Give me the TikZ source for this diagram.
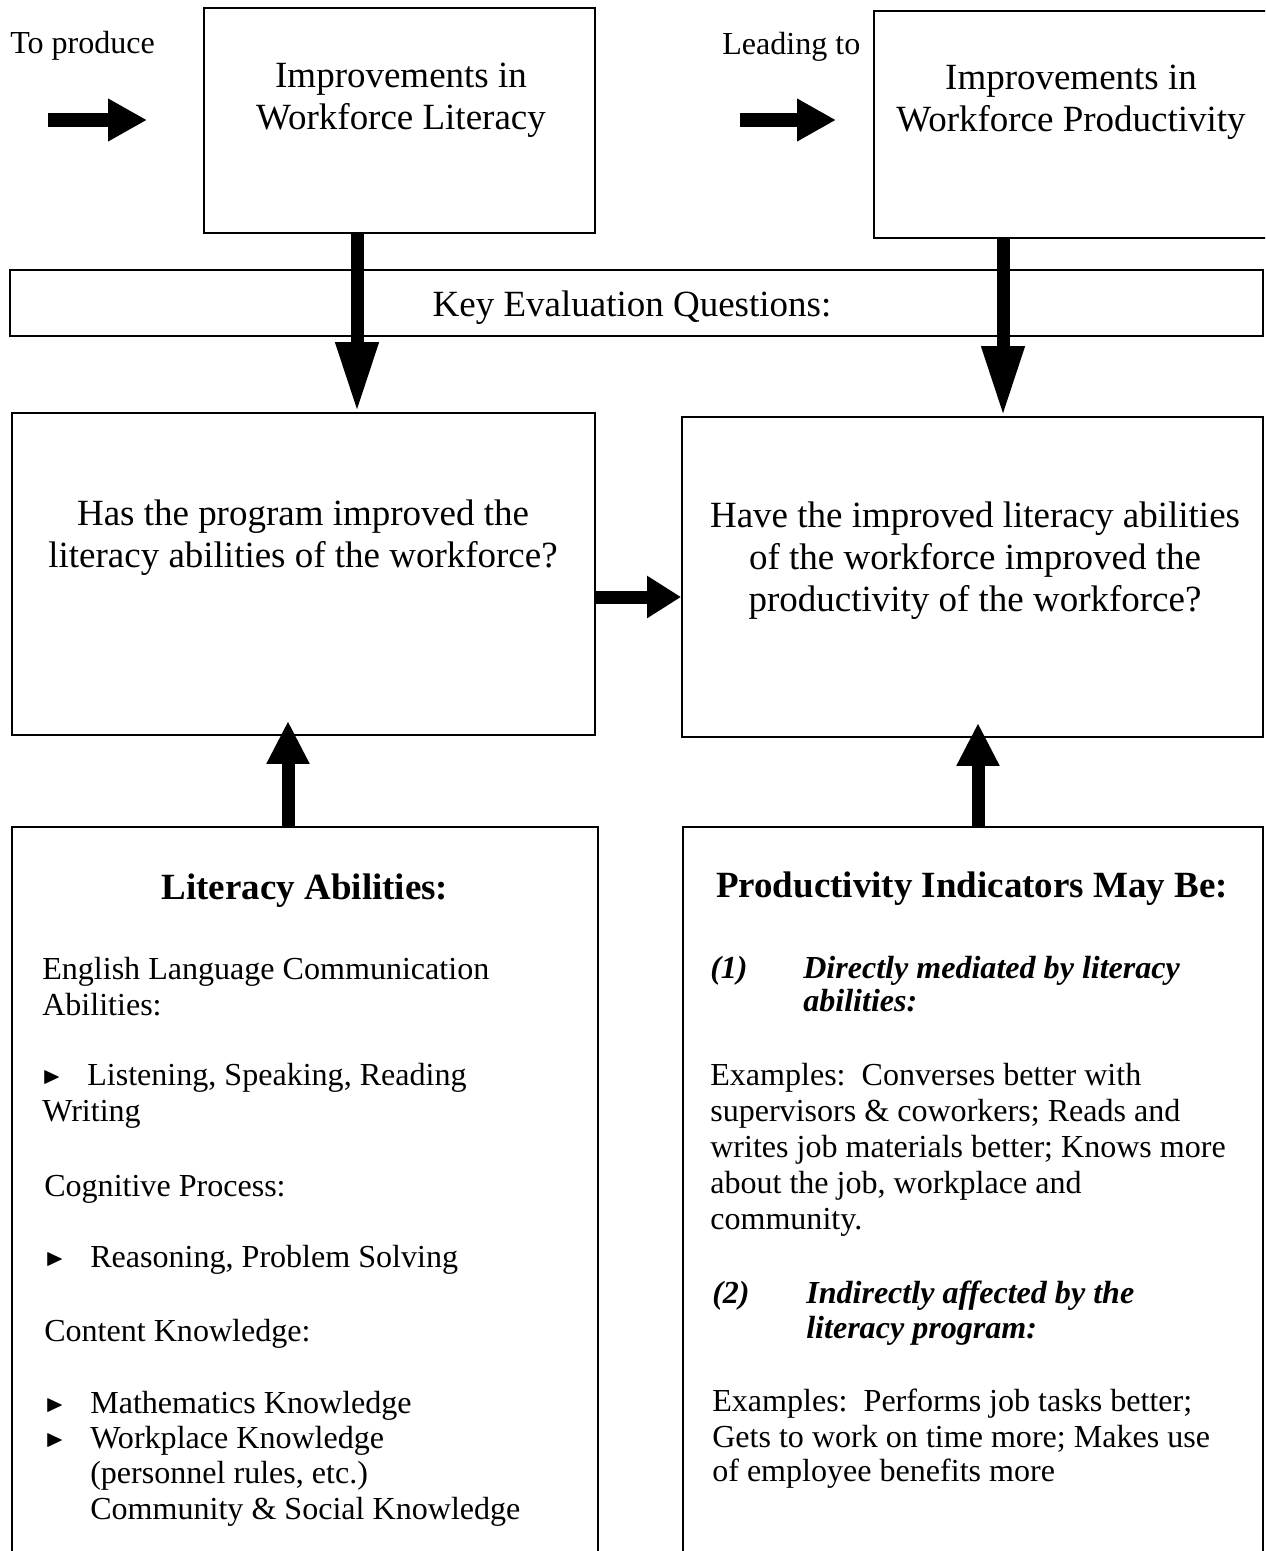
\documentclass[tikz,border=0pt]{standalone}
\usepackage{amssymb}
\usepackage{fontspec}
\setmainfont{Liberation Serif}
\usetikzlibrary{arrows.meta,positioning}

\tikzset{
  frame/.style={draw, line width=1.2pt},
  bigtext/.style={font=\fontsize{26.3}{29.5}\selectfont, anchor=base, inner sep=0pt},
  bodytext/.style={font=\fontsize{22.8}{25.6}\selectfont, anchor=base west, inner sep=0pt},
  boldhead/.style={font=\bfseries\fontsize{26.3}{29.5}\selectfont, anchor=base, inner sep=0pt},
  itemhead/.style={anchor=base west, inner sep=0pt, font=\bfseries\itshape\fontsize{22.8}{25.6}\selectfont},
  bullet/.style={anchor=base west, inner sep=0pt, font=\fontsize{17}{17}\selectfont},
  blockarrow/.style={line width=9.25pt, -{Triangle[width=28.5pt,length=#1]}},
}

\begin{document}
\begin{tikzpicture}[x=0.025cm, y=-0.025cm]
  \useasboundingbox (0,0) rectangle (1265,1551);
  \clip (0,0) rectangle (1265,1551);

  % Boxes
  \node[frame, minimum width=9.775cm, minimum height=5.625cm] (impLit) at (399.5,120.5) {};
  \node[frame, minimum width=10.025cm, minimum height=5.675cm] (impProd) at (1074.5,124.5) {};
  \node[frame, minimum width=31.325cm, minimum height=1.65cm] (keyBar) at (636.5,303) {};
  \node[frame, minimum width=14.575cm, minimum height=8.05cm] (qLit) at (303.5,574) {};
  \node[frame, minimum width=14.525cm, minimum height=8cm] (qProd) at (972.5,577) {};
  \node[frame, minimum width=14.65cm, minimum height=18.325cm] (litAb) at (305,1193.5) {};
  \node[frame, minimum width=14.5cm, minimum height=18.325cm] (prodInd) at (973,1193.5) {};

  % Top row
  \node[bodytext] (toProduce) at (10,54) {To produce};
  \node[bodytext] (leadingTo) at (722,55) {Leading to};
  \node[bigtext] (impLit1) at (401,88) {Improvements in};
  \node[bigtext] (impLit2) at (401,129) {Workforce Literacy};
  \node[bigtext] (impProd1) at (1071,90) {Improvements in};
  \node[bigtext] (impProd2) at (1071,131) {Workforce Productivity};
  \node[bigtext] (keyText) at (632,316) {Key Evaluation Questions:};

  % Questions
  \node[bigtext] (qLit1) at (303,525) {Has the program improved the};
  \node[bigtext] (qLit2) at (303,567) {literacy abilities of the workforce?};
  \node[bigtext] (qProd1) at (975,527) {Have the improved literacy abilities};
  \node[bigtext] (qProd2) at (975,569) {of the workforce improved the};
  \node[bigtext] (qProd3) at (975,611) {productivity of the workforce?};

  % Literacy abilities
  \node[boldhead] (litTitle) at (305,899) {Literacy Abilities:};
  \node[bodytext] (lit1) at (42,979) {English Language Communication};
  \node[bodytext] (lit2) at (42,1015) {Abilities:};
  \node[bullet] (bulA) at (42,1083) {$\blacktriangleright$};
  \node[bodytext] (lit3) at (87,1085) {Listening, Speaking, Reading};
  \node[bodytext] (lit4) at (42,1121) {Writing};
  \node[bodytext] (lit5) at (44,1196) {Cognitive Process:};
  \node[bullet] (bulB) at (45,1265) {$\blacktriangleright$};
  \node[bodytext] (lit6) at (90,1267) {Reasoning, Problem Solving};
  \node[bodytext] (lit7) at (44,1341) {Content Knowledge:};
  \node[bullet] (bulC) at (45,1411) {$\blacktriangleright$};
  \node[bodytext] (lit8) at (90,1413) {Mathematics Knowledge};
  \node[bullet] (bulD) at (45,1446) {$\blacktriangleright$};
  \node[bodytext] (lit9) at (90,1448) {Workplace Knowledge};
  \node[bodytext] (lit10) at (90,1483) {(personnel rules, etc.)};
  \node[bodytext] (lit11) at (90,1519) {Community \& Social Knowledge};

  % Productivity indicators
  \node[boldhead] (prodTitle) at (972,897) {Productivity Indicators May Be:};
  \node[itemhead] (num1) at (710,978) {(1)};
  \node[itemhead] (head1a) at (803,978) {Directly mediated by literacy};
  \node[itemhead] (head1b) at (803,1011) {abilities:};
  \node[bodytext] (ex1a) at (710,1085) {Examples:\ \ Converses better with};
  \node[bodytext] (ex1b) at (710,1121) {supervisors \& coworkers; Reads and};
  \node[bodytext] (ex1c) at (710,1157) {writes job materials better; Knows more};
  \node[bodytext] (ex1d) at (710,1193) {about the job, workplace and};
  \node[bodytext] (ex1e) at (710,1229) {community.};
  \node[itemhead] (num2) at (712,1303) {(2)};
  \node[itemhead] (head2a) at (806,1303) {Indirectly affected by the};
  \node[itemhead] (head2b) at (806,1338) {literacy program:};
  \node[bodytext] (ex2a) at (712,1411) {Examples:\ \ Performs job tasks better;};
  \node[bodytext] (ex2b) at (712,1447) {Gets to work on time more; Makes use};
  \node[bodytext] (ex2c) at (712,1481) {of employee benefits more};

  % Arrows
  \coordinate (srcL) at (48,120);
  \coordinate (tipL) at (147,120);
  \coordinate (srcR) at (740,120);
  \coordinate (tipR) at (836,120);
  \coordinate (downL) at (357,0);
  \coordinate (downR) at (1003,0);
  \coordinate (midY) at (0,597);
  \coordinate (upL) at (288,0);
  \coordinate (upR) at (978,0);
  \draw[blockarrow=27.7pt] (srcL) -- (tipL);
  \draw[blockarrow=27.7pt] (srcR) -- (tipR);
  \draw[blockarrow=49.8pt] (impLit.south -| downL) -- (qLit.north -| downL);
  \draw[blockarrow=49.8pt] (impProd.south -| downR) -- (qProd.north -| downR);
  \draw[blockarrow=24.2pt] (qLit.east |- midY) -- (qProd.west |- midY);
  \draw[blockarrow=30.6pt, shorten >=-10.7pt] (litAb.north -| upL) -- (qLit.south -| upL);
  \draw[blockarrow=30.6pt, shorten >=-10.7pt] (prodInd.north -| upR) -- (qProd.south -| upR);
\end{tikzpicture}
\end{document}
